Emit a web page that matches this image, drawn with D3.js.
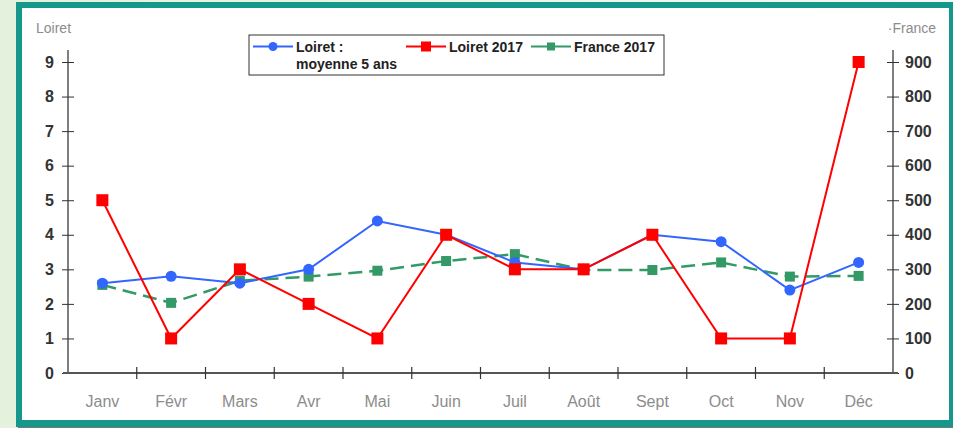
<!DOCTYPE html>
<html>
<head>
<meta charset="utf-8">
<script src="https://cdn.jsdelivr.net/npm/d3@7"></script>
<style>
  html, body { margin: 0; padding: 0; background: #fff; }
  svg { display: block; }
</style>
</head>
<body>
<div id="chart"></div>
<script>
const months = ['Janv', 'Févr', 'Mars', 'Avr', 'Mai', 'Juin', 'Juil', 'Août', 'Sept', 'Oct', 'Nov', 'Déc'];
const loiretMoyenne = [2.6, 2.8, 2.6, 3.0, 4.4, 4.0, 3.2, 3.0, 4.0, 3.8, 2.4, 3.2];
const loiret2017 = [5, 1, 3, 2, 1, 4, 3, 3, 4, 1, 1, 9];
const france2017 = [255, 203, 267, 279, 296, 324, 344, 298, 298, 320, 279, 281];
const leftTicks = [0, 1, 2, 3, 4, 5, 6, 7, 8, 9];
const rightTicks = [0, 100, 200, 300, 400, 500, 600, 700, 800, 900];

const width = 953, height = 428;
const margin = { top: 62, right: 60, bottom: 55, left: 68 };
const innerW = 893 - margin.left;
const innerH = 373 - margin.top;

const font = '"Liberation Sans", Arial, sans-serif';
const blue = '#3366ff', red = '#ff0000', green = '#339966';
const axisColor = '#555', labelGray = '#8c8c8c';

const svg = d3.select('#chart').append('svg')
  .attr('width', width).attr('height', height)
  .attr('font-family', font);

/* Background and frame */
const grad = svg.append('defs').append('linearGradient').attr('id', 'bg');
grad.append('stop').attr('offset', '0%').attr('stop-color', '#e4f1dc');
grad.append('stop').attr('offset', '100%').attr('stop-color', '#f6f9f2');
svg.append('rect').attr('width', width).attr('height', height).attr('fill', 'url(#bg)');
svg.append('rect').attr('x', 18).attr('y', 427).attr('width', 935).attr('height', 1).attr('fill', '#777');
svg.append('rect').attr('x', 16).attr('y', 2).attr('width', 937).attr('height', 425).attr('fill', '#16978b');
svg.append('rect').attr('x', 22).attr('y', 8).attr('width', 927).attr('height', 412).attr('fill', '#ffffff');

const g = svg.append('g').attr('transform', `translate(${margin.left},${margin.top})`);

const x = d3.scaleBand().domain(months).range([0, innerW]);
const yL = d3.scaleLinear().domain([0, 9]).range([innerH, 0]);
const yR = d3.scaleLinear().domain([0, 900]).range([innerH, 0]);
const cx = (i) => x(months[i]) + x.bandwidth() / 2;

/* Axes */
const styleAxis = (sel) => {
  sel.select('.domain').attr('stroke', axisColor).attr('stroke-width', 1.5);
  sel.selectAll('.tick line').attr('stroke', '#333').attr('stroke-width', 1);
};

const axL = g.append('g')
  .call(d3.axisLeft(yL).tickValues(leftTicks).tickSize(6).tickSizeOuter(0).tickFormat(d3.format('d')))
  .call(styleAxis);
axL.selectAll('.tick line').attr('x1', -6).attr('x2', 6);
axL.select('.domain').attr('d', `M0,${innerH}V-12`);
axL.selectAll('.tick text').attr('x', -14).attr('font-size', 16).attr('font-weight', 700).attr('fill', '#333').attr('font-family', font);

const axR = g.append('g').attr('transform', `translate(${innerW},0)`)
  .call(d3.axisRight(yR).tickValues(rightTicks).tickSize(6).tickSizeOuter(0).tickFormat(d3.format('d')))
  .call(styleAxis);
axR.selectAll('.tick line').attr('x1', -6).attr('x2', 6);
axR.select('.domain').attr('d', `M0,${innerH}V-12`);
axR.selectAll('.tick text').attr('x', 12).attr('font-size', 16).attr('font-weight', 700).attr('fill', '#333').attr('font-family', font);

const axB = g.append('g').attr('transform', `translate(0,${innerH})`)
  .call(d3.axisBottom(x).tickSize(0).tickSizeOuter(0));
axB.select('.domain').attr('stroke', axisColor).attr('stroke-width', 2).attr('d', `M-5,0H${innerW + 5}`);
axB.selectAll('.tick text').attr('dy', 0).attr('y', 34).attr('font-size', 16).attr('fill', labelGray).attr('font-family', font);
g.append('g').selectAll('line').data(d3.range(1, months.length)).join('line')
  .attr('x1', (d) => d * x.bandwidth()).attr('x2', (d) => d * x.bandwidth())
  .attr('y1', innerH - 6).attr('y2', innerH + 6)
  .attr('stroke', '#333').attr('stroke-width', 1.2);

svg.append('text').attr('x', 36).attr('y', 33).attr('font-size', 14).attr('fill', labelGray).text('Loiret');
svg.append('text').attr('x', 936).attr('y', 33).attr('text-anchor', 'end').attr('font-size', 14).attr('fill', labelGray).text('·France');

/* Series */
const lineL = d3.line().x((d, i) => cx(i)).y((d) => yL(d));
const lineR = d3.line().x((d, i) => cx(i)).y((d) => yR(d));

g.append('path').datum(france2017).attr('d', lineR).attr('fill', 'none')
  .attr('stroke', green).attr('stroke-width', 2.5).attr('stroke-dasharray', '14,7');
g.selectAll('rect.fr').data(france2017).join('rect').attr('class', 'fr')
  .attr('x', (d, i) => cx(i) - 5).attr('y', (d) => yR(d) - 5)
  .attr('width', 10).attr('height', 10).attr('fill', green);

g.append('path').datum(loiretMoyenne).attr('d', lineL).attr('fill', 'none')
  .attr('stroke', blue).attr('stroke-width', 2);
g.selectAll('circle.moy').data(loiretMoyenne).join('circle').attr('class', 'moy')
  .attr('cx', (d, i) => cx(i)).attr('cy', (d) => yL(d)).attr('r', 5.5).attr('fill', blue);

g.append('path').datum(loiret2017).attr('d', lineL).attr('fill', 'none')
  .attr('stroke', red).attr('stroke-width', 2);
g.selectAll('rect.lo').data(loiret2017).join('rect').attr('class', 'lo')
  .attr('x', (d, i) => cx(i) - 6).attr('y', (d) => yL(d) - 6)
  .attr('width', 12).attr('height', 12).attr('fill', red);

/* Legend */
const legend = svg.append('g').attr('transform', 'translate(249,35)');
legend.append('rect').attr('width', 415).attr('height', 40)
  .attr('fill', '#fff').attr('stroke', '#333').attr('stroke-width', 1);

const legendItems = [
  { x: 4, label: ['Loiret :', 'moyenne 5 ans'], color: blue, mark: 'circle' },
  { x: 157, label: ['Loiret 2017'], color: red, mark: 'square' },
  { x: 282, label: ['France 2017'], color: green, mark: 'smallsquare' },
];
legendItems.forEach((d) => {
  const item = legend.append('g').attr('transform', `translate(${d.x},11.5)`);
  item.append('line').attr('x1', 0).attr('x2', 40).attr('y1', 0).attr('y2', 0)
    .attr('stroke', d.color).attr('stroke-width', 2);
  if (d.mark === 'circle') {
    item.append('circle').attr('cx', 20).attr('cy', 0).attr('r', 4.5).attr('fill', d.color);
  } else {
    const s = d.mark === 'square' ? 10 : 8;
    item.append('rect').attr('x', 20 - s / 2).attr('y', -s / 2).attr('width', s).attr('height', s).attr('fill', d.color);
  }
  d.label.forEach((t, k) => {
    item.append('text').attr('x', 43).attr('y', 5 + k * 17)
      .attr('font-size', 14).attr('font-weight', 700).attr('fill', '#222').text(t);
  });
});
</script>
</body>
</html>
